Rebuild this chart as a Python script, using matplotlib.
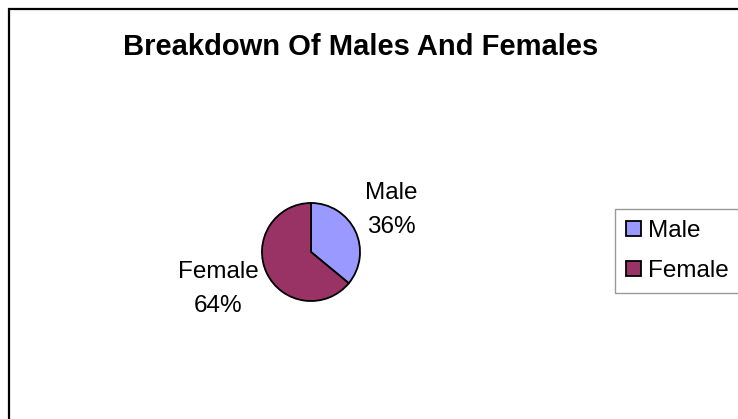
import matplotlib.pyplot as plt
from matplotlib.patches import Rectangle

# 数据
categories = ["Male", "Female"]
shares = [36, 64]
colors = ["#9999FF", "#993366"]
title = "Breakdown Of Males And Females"

plt.rcParams['font.family'] = ['Liberation Sans', 'DejaVu Sans']

W, H = 738, 419
fig = plt.figure(figsize=(W / 100, H / 100), dpi=100)

# 图表外框（右侧和底部被裁掉）
fig.patches.append(Rectangle((8.5 / W, -0.05), 1.2, 1 - 8.5 / H + 0.05,
                             transform=fig.transFigure, fill=False,
                             edgecolor='black', linewidth=1.6))

fig.text(361 / W, 1 - 47 / H, title, ha='center', va='center',
         fontsize=21, fontweight='bold')

# 饼图
cx, cy, r = 311, 252, 50
ax = fig.add_axes([(cx - r) / W, 1 - (cy + r) / H, 2 * r / W, 2 * r / H])
wedges, _ = ax.pie(shares, colors=colors, startangle=90, counterclock=False,
                   wedgeprops=dict(edgecolor='black', linewidth=1.3))
ax.set_xlim(-1.02, 1.02)
ax.set_ylim(-1.02, 1.02)
ax.set_aspect('equal')
ax.axis('off')

# 数据标签（名称一行，百分比一行）
label_pos = [(391, 193), (218, 272)]
line_gap = 34
for name, val, (px, py) in zip(categories, shares, label_pos):
    fig.text(px / W, 1 - py / H, name, ha='center', va='center', fontsize=17.5)
    fig.text(px / W, 1 - (py + line_gap) / H, f"{val}%", ha='center',
             va='center', fontsize=17.5)

# 图例
leg = fig.legend(wedges, categories, loc='upper left',
                 bbox_to_anchor=(615 / W, 1 - 209 / H), fontsize=17.5,
                 frameon=True, fancybox=False, handlelength=0.6,
                 handleheight=0.6, handletextpad=0.3, labelspacing=0.75,
                 borderpad=0.45, borderaxespad=0)
leg.get_frame().set_edgecolor('#808080')
leg.get_frame().set_linewidth(1.0)

fig.savefig('out.png', dpi=100)
